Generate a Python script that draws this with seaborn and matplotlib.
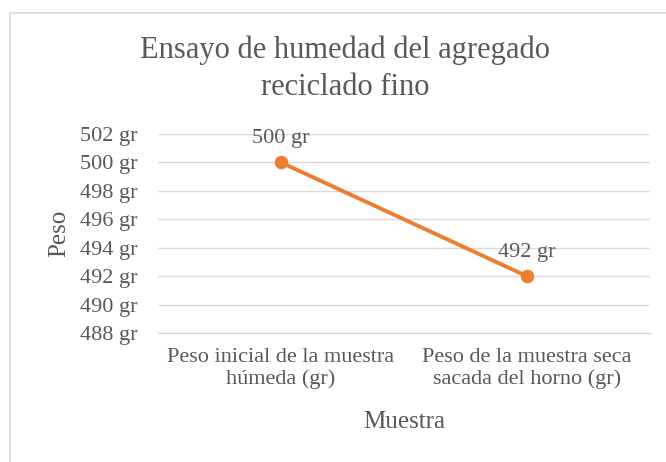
import matplotlib
matplotlib.use("Agg")
import pandas as pd
import seaborn as sns
import matplotlib.pyplot as plt
from matplotlib.patches import Rectangle

sns.set_style("white")
plt.rcParams["font.family"] = ["Liberation Serif", "DejaVu Serif"]

muestras = ["Peso inicial de la muestra\nhúmeda (gr)",
            "Peso de la muestra seca\nsacada del horno (gr)"]
pesos = [500, 492]
yticks = [488, 490, 492, 494, 496, 498, 500, 502]

df = pd.DataFrame({"Muestra": muestras, "Peso": pesos})

txt = "#595959"
orange = "#ED7D31"
grid = "#D9D9D9"

fig = plt.figure(figsize=(6.66, 4.62), dpi=100)
ax = fig.add_axes([0.237, 0.279, 0.739, 0.431])

sns.lineplot(data=df, x="Muestra", y="Peso", ax=ax, color=orange,
             linewidth=2.8, marker="o", markersize=9, markeredgecolor=orange)

for xi, v in enumerate(pesos):
    ax.annotate(f"{v} gr", (xi, v), xytext=(0, 17), textcoords="offset points",
                ha="center", va="center", fontsize=16, color=txt)

ax.set_xlim(-0.5, 1.5)
ax.set_ylim(488, 502)
ax.set_yticks(yticks)
ax.set_yticklabels([f"{t} gr" for t in yticks])
for s in ax.spines.values():
    s.set_visible(False)
ax.spines["bottom"].set_visible(True)
ax.spines["bottom"].set_color(grid)
ax.spines["bottom"].set_linewidth(1)
ax.yaxis.grid(True, color=grid, linewidth=1)
ax.tick_params(axis="y", length=0, pad=15, labelsize=16, labelcolor=txt)
ax.tick_params(axis="x", length=0, pad=11, labelsize=16, labelcolor=txt)
for lab in ax.get_xticklabels():
    lab.set_linespacing(1.12)

ax.set_ylabel("Peso", fontsize=18, color=txt, va="center")
ax.yaxis.set_label_coords(-0.2, 0.5)
ax.set_xlabel("Muestra", fontsize=18, color=txt, va="center")
ax.xaxis.set_label_coords(0.5, -0.447)

fig.text(0.518, 0.851, "Ensayo de humedad del agregado\nreciclado fino",
         ha="center", va="center", multialignment="center",
         fontsize=22, color=txt, linespacing=1.4)

fig.patches.append(Rectangle((10 / 666, -0.05), 1.0, 1 - 13 / 462 + 0.05,
                             transform=fig.transFigure, fill=False,
                             edgecolor=grid, linewidth=1.2))

fig.savefig("out.png", dpi=100, facecolor="white")
